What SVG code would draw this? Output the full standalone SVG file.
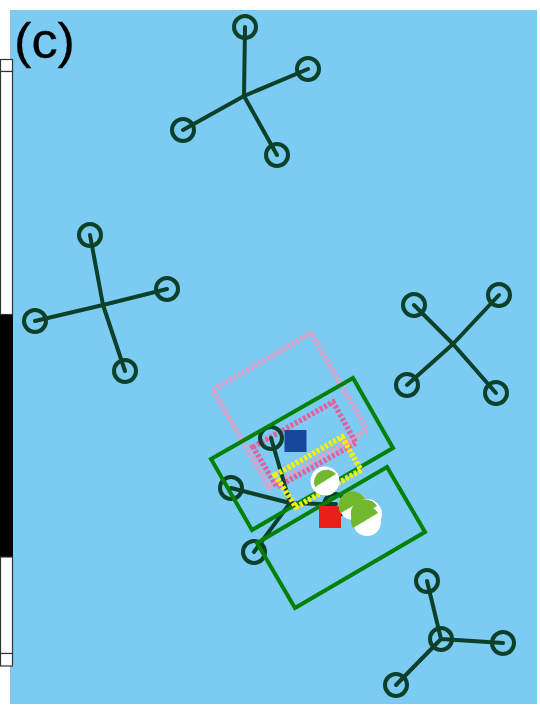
<svg xmlns="http://www.w3.org/2000/svg" width="540" height="710" viewBox="0 0 540 710">
<style>
.n{fill:none;stroke:#0c4029;stroke-width:4}
.l{fill:none;stroke:#0c4029;stroke-width:4;stroke-linecap:round}
.g{fill:none;stroke:#048004;stroke-width:4}
.d{fill:none;stroke-width:5.500;stroke-dasharray:3 1.800}
.w{fill:#fff}
.h{fill:#72b82e}
</style>
<rect width="540" height="710" fill="#fff"/>
<rect x="10" y="10" width="527" height="694" fill="#7ccbf3"/>
<path d="M10.500,10V704" stroke="#9dbdd0" stroke-width="1" fill="none"/>
<g id="scale">
<rect x="0.5" y="59.5" width="12" height="12" fill="#fff" stroke="#333" stroke-width="1.2"/>
<rect x="0.5" y="71.5" width="12" height="243" fill="#fff" stroke="#333" stroke-width="1.2"/>
<rect x="0" y="315" width="13" height="242" fill="#000"/>
<rect x="0.5" y="557" width="12" height="96.500" fill="#fff" stroke="#333" stroke-width="1.2"/>
<rect x="0.500" y="653.500" width="12" height="12.500" fill="#fff" stroke="#333" stroke-width="1.2"/>
</g>
<text id="label" x="14" y="58" font-family="Liberation Sans, Arial, sans-serif" font-size="50" textLength="61" lengthAdjust="spacingAndGlyphs" fill="#000" stroke="#000" stroke-width="0.3">(c)</text>
<polygon id="zone-light" class="d" stroke="#e0a0c8" points="213,390 311,333 367,430 269,487"/>
<polygon id="zone-pink" class="d" stroke="#e4609f" points="253,447 333,402 356,443 277,487"/>
<g id="connectors">
<path class="l" d="M245,27L244,96M308,69L244,96M183,130L244,96M277,155L244,96"/>
<path class="l" d="M90,235L103,305M167,289L103,305M35,321L103,305M125,371L103,305"/>
<path class="l" d="M414,305L453,344M499,295L453,344M407,385L453,344M496,393L453,344"/>
<path class="l" d="M427,581L441,639M503,643L441,639M396,685L441,639"/>
<path class="l" d="M271,438L290,503M231,488L290,503M254,552L290,503M336,504L322,504L290,503"/>
</g>
<g id="node-top"><circle class="n" cx="245" cy="27" r="11"/><circle class="n" cx="308" cy="69" r="11"/><circle class="n" cx="183" cy="130" r="11"/><circle class="n" cx="277" cy="155" r="11"/></g>
<g id="node-left"><circle class="n" cx="90" cy="235" r="11"/><circle class="n" cx="167" cy="289" r="11"/><circle class="n" cx="35" cy="321" r="11"/><circle class="n" cx="125" cy="371" r="11"/></g>
<g id="node-right"><circle class="n" cx="414" cy="305" r="11"/><circle class="n" cx="499" cy="295" r="11"/><circle class="n" cx="407" cy="385" r="11"/><circle class="n" cx="496" cy="393" r="11"/></g>
<g id="node-bottom"><circle class="n" cx="427" cy="581" r="11"/><circle class="n" cx="503" cy="643" r="11"/><circle class="n" cx="396" cy="685" r="11"/><circle class="n" cx="441" cy="639" r="11"/></g>
<g id="node-mid"><circle class="n" cx="271" cy="438" r="11"/><circle class="n" cx="231" cy="488" r="11"/><circle class="n" cx="254" cy="552" r="11"/><circle class="n" cx="335" cy="505" r="11"/></g>
<polygon id="zone-a" class="g" points="211,459 353,378 393,448 252,530"/>
<polygon id="zone-b" class="g" points="257,543 387,467 425,532 295,608"/>
<polygon id="zone-yellow" class="d" stroke="#fff000" points="275,475 342,437 361,470 296,507"/>
<rect id="blue" x="284.500" y="430" width="22" height="22" fill="#17479c"/>
<rect id="red" x="319" y="506" width="22" height="22" fill="#ea1f1c"/>
<g id="disc-1"><circle class="h" cx="325" cy="483" r="13"/><circle class="w" cx="325" cy="481" r="14.500"/><path class="h" d="M315,487A12.500,12.500 0 0 1 336,474Z"/></g>
<g id="disc-2"><circle class="w" cx="353" cy="506" r="14"/><path class="h" d="M340.900,513A14,14 0 1 1 365.100,499Z"/></g>
<g id="disc-3"><circle class="w" cx="367" cy="514" r="15"/><path class="h" d="M353,521A14,14 0 0 1 377,506Z"/></g>
<g id="disc-4"><circle class="w" cx="367" cy="522" r="14"/><path class="h" d="M353,528A14.500,14.500 0 0 1 378,513Z"/></g>
</svg>
